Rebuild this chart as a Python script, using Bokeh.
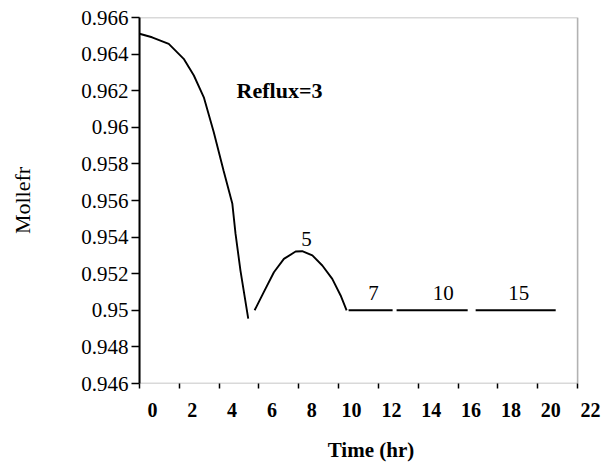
from bokeh.plotting import figure
from bokeh.models import Range1d, FixedTicker, Label, LabelSet, ColumnDataSource, LinearAxis, BoxAnnotation
from bokeh.embed import file_html
from bokeh.resources import INLINE

# ---- data ----
t_reflux3 = [-0.65, -0.02, 0.82, 1.57, 2.08, 2.58, 3.08, 3.57, 4.01, 4.17, 4.42, 4.81]
y_reflux3 = [0.96511, 0.96492, 0.96456, 0.96374, 0.96283, 0.96164, 0.95973,
             0.95764, 0.95584, 0.95420, 0.95217, 0.94954]

t_reflux5 = [5.13, 5.59, 6.10, 6.60, 7.19, 7.52, 8.03, 8.53, 9.03, 9.45, 9.75]
y_reflux5 = [0.95000, 0.95099, 0.95208, 0.95281, 0.95321, 0.95323, 0.95300,
             0.95245, 0.95172, 0.95081, 0.95000]

t_reflux7 = [9.85, 12.06]
y_reflux7 = [0.9500, 0.9500]
t_reflux10 = [12.26, 15.83]
y_reflux10 = [0.9500, 0.9500]
t_reflux15 = [16.23, 20.25]
y_reflux15 = [0.9500, 0.9500]

curve_labels = ["5", "7", "10", "15"]
curve_label_t = [7.74, 11.1, 14.6, 18.4]
curve_label_y = [0.9539, 0.95092, 0.95092, 0.95092]

x_tick_values = [0, 2, 4, 6, 8, 10, 12, 14, 16, 18, 20, 22]
x_tick_labels = ["0", "2", "4", "6", "8", "10", "12", "14", "16", "18", "20", "22"]
y_tick_values = [0.946, 0.948, 0.95, 0.952, 0.954, 0.956, 0.958, 0.96, 0.962, 0.964, 0.966]
y_tick_labels = ["0.946", "0.948", "0.95", "0.952", "0.954", "0.956", "0.958",
                 "0.96", "0.962", "0.964", "0.966"]

tick_shift = 0.65          # tick marks sit left of their labels in the reference
box_right = 22 - tick_shift
FONT = "Liberation Serif"

p = figure(frame_width=463, frame_height=366, output_backend="svg", toolbar_location=None,
           x_range=Range1d(-tick_shift, 22.6),
           y_range=Range1d(0.946, 0.966),
           min_border_left=139, min_border_right=3,
           min_border_top=17, min_border_bottom=78)
p.grid.visible = False
p.outline_line_color = None
p.background_fill_color = "white"
p.border_fill_color = "white"

# plot box (axes frame of the reference)
p.add_layout(BoxAnnotation(left=-tick_shift, right=box_right, bottom=0.946, top=0.966,
                           fill_alpha=0, line_color="black", line_width=1.6))

# x axis 1: tick marks only
xa = p.xaxis[0]
xa.ticker = FixedTicker(ticks=[v - tick_shift for v in x_tick_values])
xa.major_label_text_color = None
xa.major_label_text_font_size = "0px"
xa.major_label_standoff = 0
xa.minor_tick_line_color = None
xa.axis_line_color = None
xa.major_tick_in = 0
xa.major_tick_out = 5
xa.major_tick_line_width = 1.5

# x axis 2: labels and title
xl = LinearAxis(ticker=FixedTicker(ticks=x_tick_values))
xl.major_label_overrides = {v: s for v, s in zip(x_tick_values, x_tick_labels)}
xl.axis_line_color = None
xl.major_tick_line_color = None
xl.minor_tick_line_color = None
xl.major_tick_in = 0
xl.major_tick_out = 0
xl.major_label_standoff = 14
xl.major_label_text_font = FONT
xl.major_label_text_font_size = "20px"
xl.major_label_text_font_style = "bold"
xl.major_label_text_color = "black"
xl.axis_label = "Time (hr)"
xl.axis_label_text_font = FONT
xl.axis_label_text_font_size = "21px"
xl.axis_label_text_font_style = "bold"
xl.axis_label_text_color = "black"
xl.axis_label_standoff = 18
p.add_layout(xl, "below")

# y axis
ya = p.yaxis[0]
ya.ticker = FixedTicker(ticks=y_tick_values)
ya.major_label_overrides = {v: s for v, s in zip(y_tick_values, y_tick_labels)}
ya.minor_tick_line_color = None
ya.major_tick_in = 0
ya.major_tick_out = 8
ya.major_label_standoff = 3
ya.axis_line_width = 2
ya.major_tick_line_width = 1.5
ya.major_label_text_font = FONT
ya.major_label_text_font_size = "21px"
ya.major_label_text_color = "black"
ya.axis_label = "Mollefr"
ya.axis_label_text_font = FONT
ya.axis_label_text_font_size = "22px"
ya.axis_label_text_font_style = "normal"
ya.axis_label_text_color = "black"
ya.axis_label_standoff = 43

# curves
lw = 1.9
p.line(t_reflux3, y_reflux3, line_color="black", line_width=lw)
p.line(t_reflux5, y_reflux5, line_color="black", line_width=lw)
p.line(t_reflux7, y_reflux7, line_color="black", line_width=lw)
p.line(t_reflux10, y_reflux10, line_color="black", line_width=lw)
p.line(t_reflux15, y_reflux15, line_color="black", line_width=lw)

# in-plot labels
p.add_layout(Label(x=6.38, y=0.96201, text="Reflux=3", text_font=FONT,
                   text_font_size="22px", text_font_style="bold",
                   text_align="center", text_baseline="middle", text_color="black"))
src = ColumnDataSource(dict(x=curve_label_t, y=curve_label_y, text=curve_labels))
p.add_layout(LabelSet(x="x", y="y", text="text", source=src, text_font=FONT,
                      text_font_size="21px", text_align="center",
                      text_baseline="middle", text_color="black"))

open("out.html", "w").write(file_html(p, INLINE))
